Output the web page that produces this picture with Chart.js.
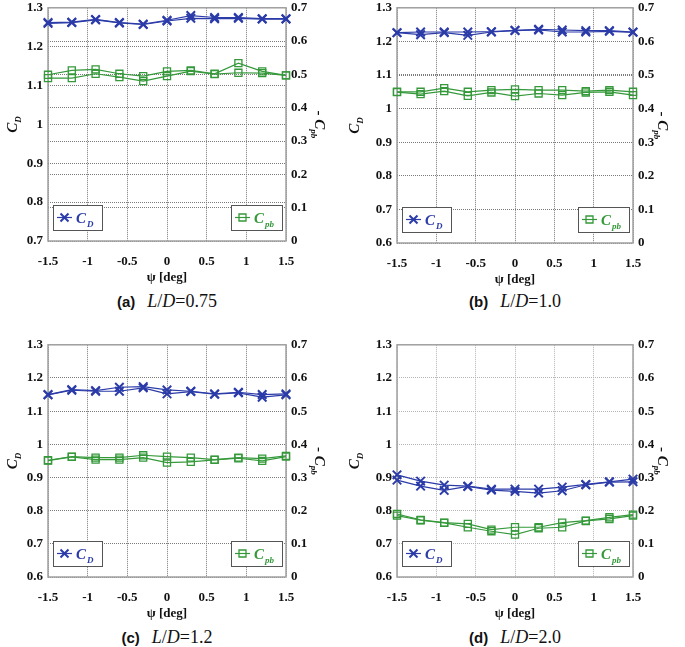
<!DOCTYPE html>
<html>
<head>
<meta charset="utf-8">
<script src="https://cdn.jsdelivr.net/npm/chart.js@4.4.1/dist/chart.umd.min.js"></script>
<style>
  body { margin: 0; background: #fff; width: 685px; height: 647px; position: relative; overflow: hidden; }
  .panel { position: absolute; }
  .panel canvas { display: block; }
  .cap { position: absolute; text-align: center; font: 18px "Liberation Serif", serif; line-height: 20px; color: #111; white-space: nowrap; }
  .cap b { font: bold 15px "Liberation Sans", Arial, sans-serif; margin-right: 12px; }
</style>
</head>
<body>
<div class="panel" style="left:0;top:-5px"><canvas id="pa" width="342" height="291"></canvas></div>
<div class="panel" style="left:342px;top:-5px"><canvas id="pb" width="343" height="293"></canvas></div>
<div class="panel" style="left:0;top:332px"><canvas id="pc" width="342" height="290"></canvas></div>
<div class="panel" style="left:342px;top:332px"><canvas id="pd" width="343" height="290"></canvas></div>

<div class="cap" style="left:48px;width:238px;top:291px"><b>(a)</b><i>L</i>/<i>D</i>=0.75</div>
<div class="cap" style="left:397px;width:236px;top:291px"><b>(b)</b><i>L</i>/<i>D</i>=1.0</div>
<div class="cap" style="left:48px;width:238px;top:627px"><b>(c)</b><i>L</i>/<i>D</i>=1.2</div>
<div class="cap" style="left:397px;width:236px;top:627px"><b>(d)</b><i>L</i>/<i>D</i>=2.0</div>

<script>
// yaw angle psi [deg], same for every panel
const psi = [-1.5, -1.2, -0.9, -0.6, -0.3, 0, 0.3, 0.6, 0.9, 1.2, 1.5];

// (a) L/D = 0.75
const cdA1 = [1.262, 1.263, 1.270, 1.262, 1.258, 1.268, 1.280, 1.275, 1.275, 1.272, 1.272];
const cdA2 = [1.260, 1.262, 1.269, 1.261, 1.257, 1.266, 1.273, 1.272, 1.273, 1.271, 1.271];
const cpA1 = [0.499, 0.512, 0.515, 0.502, 0.495, 0.509, 0.512, 0.502, 0.534, 0.509, 0.497];
const cpA2 = [0.489, 0.489, 0.502, 0.492, 0.480, 0.495, 0.510, 0.501, 0.505, 0.504, 0.497];

// (b) L/D = 1.0
const cdB1 = [1.226, 1.228, 1.228, 1.228, 1.229, 1.233, 1.236, 1.234, 1.232, 1.232, 1.228];
const cdB2 = [1.226, 1.220, 1.226, 1.218, 1.228, 1.232, 1.234, 1.228, 1.228, 1.230, 1.227];
const cpB1 = [0.450, 0.450, 0.461, 0.450, 0.455, 0.457, 0.455, 0.455, 0.452, 0.455, 0.450];
const cpB2 = [0.449, 0.443, 0.452, 0.438, 0.448, 0.437, 0.445, 0.440, 0.448, 0.450, 0.440];

// (c) L/D = 1.2
const cdC1 = [1.150, 1.165, 1.162, 1.172, 1.174, 1.164, 1.160, 1.152, 1.157, 1.150, 1.152];
const cdC2 = [1.149, 1.163, 1.160, 1.160, 1.170, 1.152, 1.159, 1.151, 1.155, 1.142, 1.149];
const cpC1 = [0.352, 0.363, 0.360, 0.360, 0.367, 0.363, 0.360, 0.354, 0.360, 0.357, 0.365];
const cpC2 = [0.351, 0.362, 0.354, 0.354, 0.360, 0.345, 0.347, 0.353, 0.358, 0.350, 0.363];

// (d) L/D = 2.0
const cdD1 = [0.908, 0.889, 0.877, 0.874, 0.865, 0.865, 0.865, 0.871, 0.879, 0.887, 0.895];
const cdD2 = [0.892, 0.874, 0.861, 0.873, 0.862, 0.858, 0.853, 0.860, 0.878, 0.886, 0.887];
const cpD1 = [0.190, 0.172, 0.164, 0.160, 0.143, 0.150, 0.150, 0.164, 0.170, 0.180, 0.188];
const cpD2 = [0.185, 0.171, 0.163, 0.150, 0.138, 0.128, 0.147, 0.150, 0.169, 0.175, 0.185];

const xTicks = [-1.5, -1, -0.5, 0, 0.5, 1, 1.5];

const BLUE = "#2b3ba8";
const GREEN = "#35993a";
const SERIF = '"Liberation Serif", "Times New Roman", serif';

function pts(ys) {
    return psi.map((x, i) => ({ x, y: ys[i] }));
}

function drawRich(ctx, parts, cx, cy, rot) {
    ctx.save();
    ctx.translate(cx, cy);
    ctx.rotate(rot);
    ctx.textBaseline = "alphabetic";
    ctx.textAlign = "left";
    let w = 0;
    parts.forEach(p => { ctx.font = p.font; p.w = ctx.measureText(p.text).width; w += p.w; });
    let x = -w / 2;
    parts.forEach(p => {
        ctx.font = p.font;
        ctx.fillStyle = p.color;
        ctx.fillText(p.text, x, p.dy);
        x += p.w;
    });
    ctx.restore();
}

function drawMarker(ctx, kind, x, y, color) {
    ctx.strokeStyle = color;
    ctx.beginPath();
    if (kind === "x") {
        ctx.lineWidth = 2;
        ctx.moveTo(x - 4, y - 4); ctx.lineTo(x + 4, y + 4);
        ctx.moveTo(x + 4, y - 4); ctx.lineTo(x - 4, y + 4);
    } else {
        ctx.lineWidth = 1.3;
        ctx.rect(x - 3.5, y - 3.5, 7, 7);
    }
    ctx.stroke();
}

function drawLegendBox(ctx, x, y, w, h, color, kind, sub) {
    ctx.save();
    ctx.fillStyle = "#fff";
    ctx.fillRect(x, y, w, h);
    ctx.strokeStyle = "#555";
    ctx.lineWidth = 1;
    ctx.strokeRect(x + 0.5, y + 0.5, w, h);
    const my = Math.round(y + h / 2 - 1) + 0.5;
    ctx.strokeStyle = color;
    ctx.lineWidth = 1.2;
    ctx.beginPath();
    ctx.moveTo(x + 4, my);
    ctx.lineTo(x + 19, my);
    ctx.stroke();
    drawMarker(ctx, kind, x + 11.5, my, color);
    ctx.textBaseline = "alphabetic";
    ctx.fillStyle = color;
    ctx.font = "italic bold 15px " + SERIF;
    ctx.fillText("C", x + 23, my + 5);
    const cw = ctx.measureText("C").width;
    ctx.font = "italic bold 9px " + SERIF;
    ctx.fillText(sub, x + 24 + cw, my + 9);
    ctx.restore();
}

const panelDeco = {
    id: "panelDeco",
    beforeDatasetsDraw(chart) {
        const { ctx, chartArea: a } = chart;
        ctx.save();
        ctx.strokeStyle = "#a0a0a0";
        ctx.lineWidth = 1.5;
        ctx.strokeRect(a.left, a.top, a.right - a.left, a.bottom - a.top);
        ctx.restore();
    },
    afterDatasetsDraw(chart) {
        const { ctx, chartArea: a } = chart;
        drawLegendBox(ctx, a.left + 5, a.bottom - 36, 49, 25, BLUE, "x", "D");
        drawLegendBox(ctx, a.right - 55, a.bottom - 36, 51, 25, GREEN, "s", "pb");

        const cy = (a.top + a.bottom) / 2;
        const big = "italic bold 15px " + SERIF;
        const small = "italic bold 9px " + SERIF;
        drawRich(ctx, [
            { text: "C", font: big, dy: 5, color: "#111" },
            { text: "D", font: small, dy: 9, color: "#111" }
        ], 12, cy, -Math.PI / 2);
        drawRich(ctx, [
            { text: "- ", font: "bold 15px " + SERIF, dy: 5, color: "#111" },
            { text: "C", font: big, dy: 5, color: "#111" },
            { text: "pb", font: small, dy: 9, color: "#111" }
        ], chart.width - 22, cy, Math.PI / 2);
    }
};

function fmt(v) {
    return String(+v.toFixed(2));
}

function makePanel(id, cdRuns, cpRuns, yMin, leftW, rightW, gridColor) {
    const datasets = [];
    cdRuns.forEach(run => datasets.push({
        data: pts(run), yAxisID: "y",
        borderColor: BLUE, backgroundColor: BLUE, borderWidth: 1.2,
        pointStyle: "crossRot", pointRadius: 6, pointBorderWidth: 2
    }));
    cpRuns.forEach(run => datasets.push({
        data: pts(run), yAxisID: "y1",
        borderColor: GREEN, backgroundColor: "rgba(0,0,0,0)", borderWidth: 1.2,
        pointStyle: "rect", pointRadius: 5, pointBorderWidth: 1.3
    }));

    const tickFont = { family: SERIF, size: 13, weight: "bold" };

    return new Chart(document.getElementById(id), {
        type: "line",
        data: { datasets },
        plugins: [panelDeco],
        options: {
            responsive: false,
            animation: false,
            devicePixelRatio: 1,
            events: [],
            clip: false,
            layout: { padding: { top: 10, left: 0, right: 0, bottom: 0 } },
            elements: { line: { tension: 0 } },
            plugins: { legend: { display: false }, tooltip: { enabled: false } },
            scales: {
                x: {
                    type: "linear", min: -1.5, max: 1.5,
                    afterBuildTicks: s => { s.ticks = xTicks.map(v => ({ value: v })); },
                    afterFit: s => { s.height = 45; },
                    ticks: { font: tickFont, color: "#111", padding: 13, callback: fmt, maxRotation: 0 },
                    grid: { color: gridColor, lineWidth: 1, drawTicks: false },
                    border: { display: false, dash: [1, 1] },
                    title: {
                        display: true, text: "ψ [deg]", color: "#111",
                        font: { family: SERIF, size: 13, weight: "bold" },
                        padding: { top: 0, bottom: 1 }
                    }
                },
                y: {
                    position: "left", min: yMin, max: 1.3,
                    afterFit: s => { s.width = leftW; },
                    ticks: { font: tickFont, color: "#111", padding: 5, stepSize: 0.1, callback: fmt },
                    grid: { color: gridColor, lineWidth: 1, drawTicks: false },
                    border: { display: false, dash: [1, 1] }
                },
                y1: {
                    position: "right", min: 0, max: 0.7,
                    afterFit: s => { s.width = rightW; },
                    ticks: { font: tickFont, color: "#111", padding: 5, stepSize: 0.1, callback: fmt },
                    grid: { color: gridColor, lineWidth: 1, drawTicks: false, drawOnChartArea: true },
                    border: { display: false, dash: [1, 1] }
                }
            }
        }
    });
}

makePanel("pa", [cdA1, cdA2], [cpA1, cpA2], 0.7, 48, 56, "#7a7a7a");
makePanel("pb", [cdB1, cdB2], [cpB1, cpB2], 0.6, 55, 52, "#7a7a7a");
makePanel("pc", [cdC1, cdC2], [cpC1, cpC2], 0.6, 48, 56, "#7a7a7a");
makePanel("pd", [cdD1, cdD2], [cpD1, cpD2], 0.6, 55, 52, "#b5b5b5");
</script>
</body>
</html>
